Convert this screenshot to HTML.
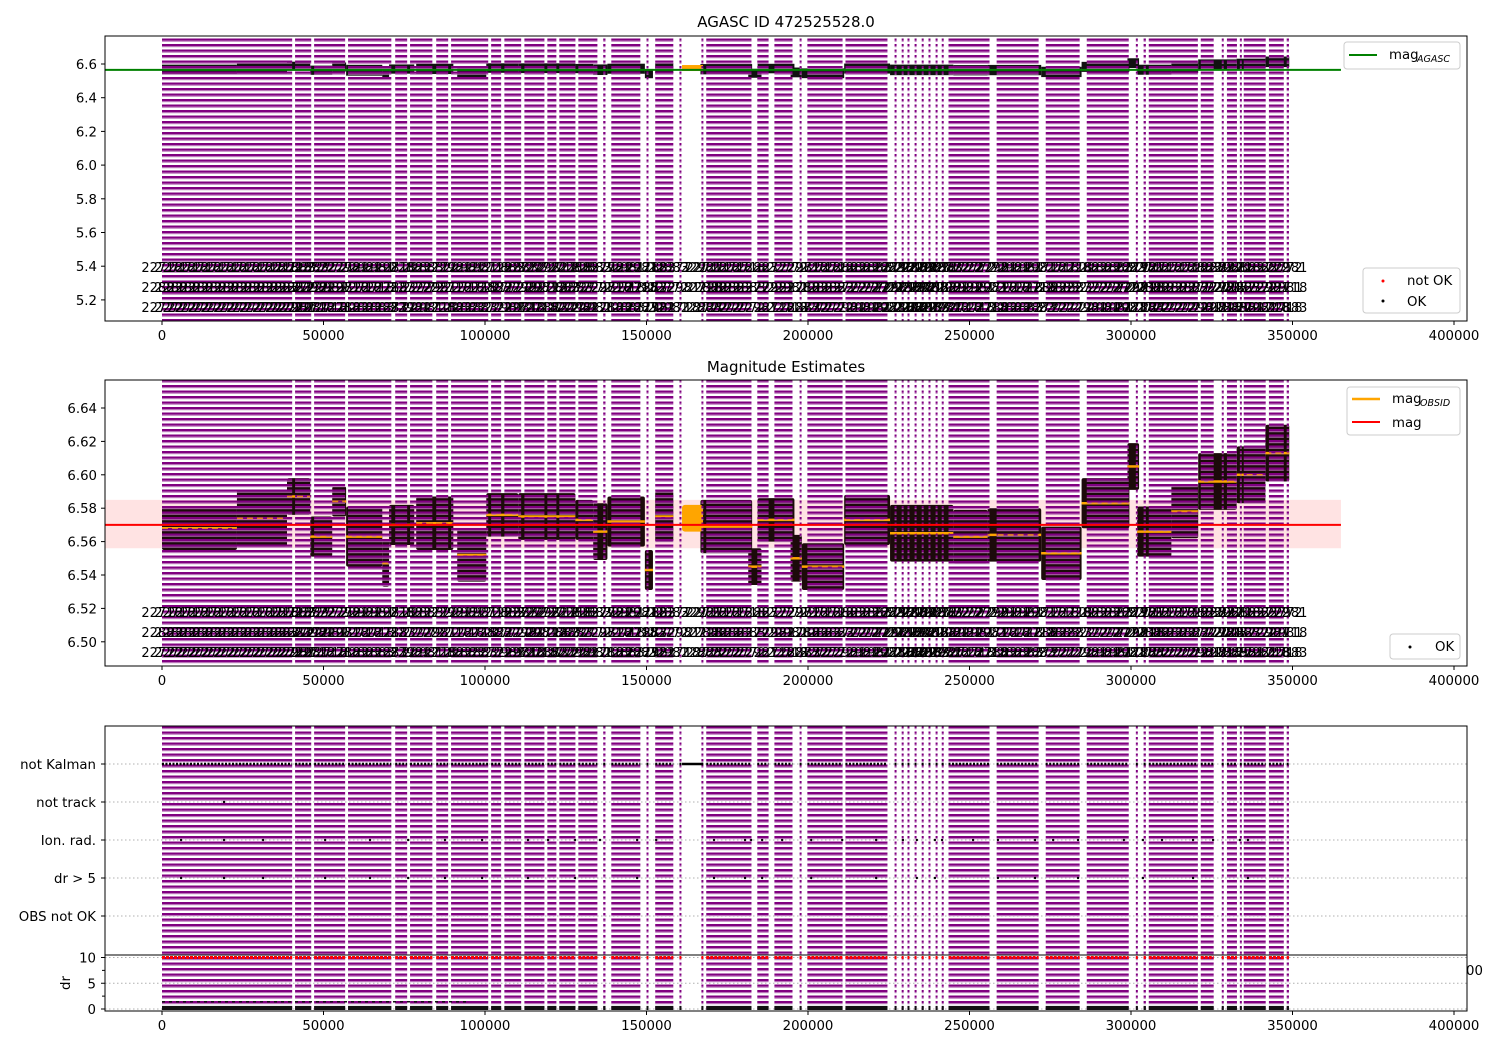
<!DOCTYPE html>
<html><head><meta charset="utf-8"><style>
body{margin:0;background:#fff;}
svg{display:block;font-family:"DejaVu Sans","Liberation Sans",sans-serif;}
</style></head><body>
<svg id="chart" width="1500" height="1050" xmlns="http://www.w3.org/2000/svg">
<defs>
<pattern id="stripes" patternUnits="userSpaceOnUse" width="10" height="5.5">
<rect x="0" y="0" width="10" height="2.2" fill="#800080"/>
<rect x="0" y="2.2" width="10" height="1.0" fill="#b56ab5"/>
</pattern>
<clipPath id="c1"><rect x="105" y="36" width="1362" height="285"/></clipPath>
<clipPath id="c2"><rect x="105" y="380" width="1362" height="286"/></clipPath>
<clipPath id="c3"><rect x="105" y="726" width="1362" height="229"/></clipPath>
<clipPath id="c4"><rect x="105" y="955" width="1362" height="56"/></clipPath>
</defs>
<g id="root"></g>
</svg>
<script>
// ---- data (time in thousands of seconds) ----
const segStart=[0,41.2,47.1,57.6,72.2,76.8,84.9,89.5,101.9,106,112.2,119.3,123,128.9,136.6,139.1,150,152.7,160.2,167,168.5,184.3,189.6,197.4,199.8,211.6,226.8,229,230.8,233,235.2,237.3,239.5,241.4,243.5,258.4,273.6,286.3,301.5,303.9,305.5,321.6,328.1,329.7,333.7,334.9,342.7,348.2];
const segEnd=[40.3,46.2,56.7,71,75.9,83.7,88.6,101,105,111.2,118.4,122.1,128,134.8,137.3,148.1,150.6,158.3,160.8,167.6,182.5,187.8,195.2,198,210.7,224.6,227.4,229.6,231.4,233.6,235.8,237.9,240.1,242,256.2,271.4,284.1,299.3,302.1,304.6,320.7,325.6,328.7,332.8,334.3,341.7,347.3,348.9];
const blkStart=[0,23.2,38.7,45.9,52.7,57,68.2,70.3,78.7,91.4,100.4,110.3,128,133.5,137.9,149.5,152.7,166.7,181.5,184.4,194.6,198.1,211.2,225.4,245,255.6,272.2,284.7,298.9,301.9,312.5,320.8,332.7,341.6];
const blkEnd=[23.2,38.7,45.9,52.7,57,68.2,70.3,78.1,90.2,100.4,110.3,128,133.5,137.9,149.5,152,158.3,182.7,185.6,195.8,198.1,211.2,225.4,245,255.6,272.2,284.7,299.5,302.5,312.5,320.8,332.7,341.6,349];
const blkMag=[6.568,6.574,6.587,6.563,6.584,6.563,6.547,6.570,6.571,6.552,6.576,6.575,6.573,6.566,6.572,6.543,6.575,6.569,6.545,6.573,6.55,6.545,6.573,6.565,6.563,6.564,6.553,6.583,6.605,6.566,6.578,6.596,6.60,6.613];
const blkHalf=[.013,.017,.011,.012,.009,.018,.014,.012,.016,.016,.013,.014,.012,.017,.015,.012,.015,.016,.011,.013,.014,.014,.015,.017,.016,.016,.016,.015,.014,.015,.016,.017,.017,.017];
const bumpStart=[161], bumpEnd=[167.5], bumpMag=[6.574], bumpHalf=[0.008];
const magMean=6.570, magLo=6.556, magHi=6.585, magAgasc=6.565, lineEnd=365;
const ionRad=[5.9,19.2,31.3,50.5,64.4,76.2,87.6,99.1,113.3,119.5,127.9,135.6,147.1,153,170.9,180.5,182.4,185.8,192,201,210.6,221.1,229.4,233.7,239.3,241.5,251.1,258.8,270.3,275.9,283.6,297.8,303.7,309.6,319.2,325.4,333.7,336.2];
const drGt5=[5.9,19.2,31.3,50.5,64.4,76.2,87.6,99.1,113.3,127.9,147.1,170.9,180.5,185.8,201,221.1,233.7,239.3,258.8,270.3,283.6,303.7,319.2,336.2];
const notTrack=[19.2];
const drCap=10, drBaseHi=0.6;
const drBumpStart=[0], drBumpEnd=[95], drBumpVal=[1.4];
const xTicks=[0,50000,100000,150000,200000,250000,300000,350000,400000];
const y1Ticks=[5.2,5.4,5.6,5.8,6.0,6.2,6.4,6.6];
const y2Ticks=[6.50,6.52,6.54,6.56,6.58,6.60,6.62,6.64];
const cats=["OBS not OK","dr > 5","Ion. rad.","not track","not Kalman"];
const drTicks=[0,5,10];
const obsLabels=["22718","22883","22772","22981"];

// ---- scales ----
const X=k=>162+k*1292/400;
const Y1=m=>64+(6.6-m)*168.5;
const Y2=m=>408+(6.64-m)*1670;
const Yc=i=>916-i*38;
const Ydr=d=>1009-d*5.15;

const NS="http://www.w3.org/2000/svg";
const root=document.getElementById('root');
function el(tag,attrs,parent){const e=document.createElementNS(NS,tag);for(const k in attrs)e.setAttribute(k,attrs[k]);(parent||root).appendChild(e);return e;}
function txt(s,attrs,parent){const e=el('text',attrs,parent);e.textContent=s;return e;}

function stripes(g,top,bot){
  for(let i=0;i<segStart.length;i++){
    const r=el('rect',{x:X(segStart[i]),y:top,width:Math.max(2,X(segEnd[i])-X(segStart[i])),height:bot-top,fill:'url(#stripes)'},g);
    
    
  }
}
function obsText(g,ys){
  ys.forEach((y,ri)=>{
    for(let i=0;i<segStart.length;i++){
      for(let k=segStart[i];k<=segEnd[i]+0.01;k+=4){
        const t=txt(obsLabels[(i+ri)%4],{x:X(k),y:y,'font-size':13,'text-anchor':'middle',fill:'#000'},g);
        
        
      }
    }
  });
}
function xAxis(yb,show){
  const g=el('g',{});
  
  
  xTicks.forEach(v=>{const x=X(v/1000);el('line',{x1:x,x2:x,y1:yb,y2:yb+4,stroke:'#000'},g);
    if(show)txt(String(v),{x:x,y:yb+19,'font-size':13.3,'text-anchor':'middle'},g);});
}
function frame(x,y,w,h,name){const r=el('rect',{x:x,y:y,width:w,height:h,fill:'none',stroke:'#000','stroke-width':1});}

// ===== Panel 1 =====
txt("AGASC ID 472525528.0",{x:786,y:27,'font-size':15,'text-anchor':'middle'});
let g1=el('g',{'clip-path':'url(#c1)'});


for(let i=0;i<blkStart.length;i++){
  const yt=Y1(blkMag[i]+blkHalf[i]*0.8)-3;
  const r=el('rect',{x:X(blkStart[i]),y:yt,width:X(blkEnd[i])-X(blkStart[i]),height:Math.max(9,Y1(blkMag[i]-blkHalf[i]*0.8)+3-yt),fill:'#111'},g1);
  
}
el('rect',{x:X(bumpStart[0]),y:Y1(bumpMag[0]+bumpHalf[0])-2,width:X(bumpEnd[0])-X(bumpStart[0]),height:6,fill:'orange'},g1);
stripes(g1,36,321);
const ag=el('line',{x1:105,x2:X(lineEnd),y1:Y1(magAgasc),y2:Y1(magAgasc),stroke:'green','stroke-width':2},g1);

obsText(g1,[272,292,312]);
frame(105,36,1362,285,'panel-agasc-frame');
y1Ticks.forEach(v=>{const y=Y1(v);el('line',{x1:101,x2:105,y1:y,y2:y,stroke:'#000'});txt(v.toFixed(1),{x:97,y:y+5,'font-size':13.3,'text-anchor':'end'});});
xAxis(321,true);
// legends
let lg=el('g',{});
el('rect',{x:1344,y:42,width:116,height:27,rx:3,fill:'#fff',stroke:'#ccc'},lg);
el('line',{x1:1349,x2:1377,y1:55,y2:55,stroke:'green','stroke-width':2},lg);
txt("mag",{x:1389,y:59,'font-size':13.3},lg);
txt("AGASC",{x:1417,y:62,'font-size':9.5,'font-style':'italic'},lg);
let lg2=el('g',{});
el('rect',{x:1363,y:268,width:97,height:45,rx:3,fill:'#fff',stroke:'#ccc'},lg2);
el('circle',{cx:1383,cy:281,r:1.5,fill:'red'},lg2);txt("not OK",{x:1407,y:285,'font-size':13.3},lg2);
el('circle',{cx:1383,cy:301,r:1.5,fill:'#000'},lg2);txt("OK",{x:1407,y:306,'font-size':13.3},lg2);

// ===== Panel 2 =====
txt("Magnitude Estimates",{x:786,y:372,'font-size':15,'text-anchor':'middle'});
let g2=el('g',{'clip-path':'url(#c2)'});


const band=el('rect',{x:105,y:Y2(magHi),width:X(lineEnd)-105,height:Y2(magLo)-Y2(magHi),fill:'rgba(255,0,0,0.11)'},g2);

for(let i=0;i<blkStart.length;i++){
  const r=el('rect',{x:X(blkStart[i]),y:Y2(blkMag[i]+blkHalf[i]),width:X(blkEnd[i])-X(blkStart[i]),height:Y2(blkMag[i]-blkHalf[i])-Y2(blkMag[i]+blkHalf[i]),fill:'#1c0a0a',rx:2},g2);
  
  const o=el('line',{x1:X(blkStart[i]),x2:X(blkEnd[i]),y1:Y2(blkMag[i]),y2:Y2(blkMag[i]),stroke:'orange','stroke-width':2.5},g2);
  
}
el('rect',{x:X(bumpStart[0]),y:Y2(bumpMag[0]+bumpHalf[0]),width:X(bumpEnd[0])-X(bumpStart[0]),height:Y2(bumpMag[0]-bumpHalf[0])-Y2(bumpMag[0]+bumpHalf[0]),fill:'orange',rx:3},g2);
stripes(g2,380,666);
for(let i=0;i<blkStart.length;i++){
  el('line',{x1:X(blkStart[i]),x2:X(blkEnd[i]),y1:Y2(blkMag[i]),y2:Y2(blkMag[i]),stroke:'orange','stroke-width':1.5,'stroke-dasharray':'6,4',opacity:0.8},g2);
}
const ml=el('line',{x1:105,x2:X(lineEnd),y1:Y2(magMean),y2:Y2(magMean),stroke:'red','stroke-width':2},g2);

obsText(g2,[617,637,657]);
frame(105,380,1362,286,'panel-mag-frame');
y2Ticks.forEach(v=>{const y=Y2(v);el('line',{x1:101,x2:105,y1:y,y2:y,stroke:'#000'});txt(v.toFixed(2),{x:97,y:y+5,'font-size':13.3,'text-anchor':'end'});});
xAxis(666,true);
let lg3=el('g',{});
el('rect',{x:1347,y:387,width:113,height:48,rx:3,fill:'#fff',stroke:'#ccc'},lg3);
el('line',{x1:1352,x2:1380,y1:399,y2:399,stroke:'orange','stroke-width':2.5},lg3);
txt("mag",{x:1392,y:403,'font-size':13.3},lg3);txt("OBSID",{x:1420,y:406,'font-size':9.5,'font-style':'italic'},lg3);
el('line',{x1:1352,x2:1380,y1:422,y2:422,stroke:'red','stroke-width':2},lg3);
txt("mag",{x:1392,y:427,'font-size':13.3},lg3);
let lg4=el('g',{});
el('rect',{x:1390,y:634,width:70,height:25,rx:3,fill:'#fff',stroke:'#ccc'},lg4);
el('circle',{cx:1410,cy:647,r:1.5,fill:'#000'},lg4);txt("OK",{x:1435,y:651,'font-size':13.3},lg4);

// ===== Panel 3 =====
let g3=el('g',{'clip-path':'url(#c3)'});


cats.forEach((c,i)=>{el('line',{x1:105,x2:1467,y1:Yc(i),y2:Yc(i),stroke:'#b0b0b0','stroke-dasharray':'1.5,2.5'},g3);});
stripes(g3,726,955);
for(let i=0;i<segStart.length;i++){
  const l=el('line',{x1:X(segStart[i]),x2:X(segEnd[i]),y1:Yc(4),y2:Yc(4),stroke:'#000','stroke-width':2.5,'stroke-dasharray':'2,1.5'},g3);
  
}
el('line',{x1:X(161),x2:X(167.5),y1:Yc(4),y2:Yc(4),stroke:'#000','stroke-width':2.5},g3);
ionRad.forEach(k=>{el('circle',{cx:X(k),cy:Yc(2),r:1.2,fill:'#000'},g3);});
drGt5.forEach(k=>{el('circle',{cx:X(k),cy:Yc(1),r:1.2,fill:'#000'},g3);});
notTrack.forEach(k=>{el('circle',{cx:X(k),cy:Yc(3),r:1.2,fill:'#000'},g3);});
frame(105,726,1362,229,'panel-flags-frame');
cats.forEach((c,i)=>{el('line',{x1:101,x2:105,y1:Yc(i),y2:Yc(i),stroke:'#000'});const t=txt(c,{x:96,y:Yc(i)+5,'font-size':13.3,'text-anchor':'end'});});
txt("00",{x:1466,y:975,'font-size':13.3});

// ===== dr panel =====
let g4=el('g',{'clip-path':'url(#c4)'});


el('rect',{x:105,y:955,width:1362,height:56,fill:'#fff'},g4);
drTicks.forEach(v=>{el('line',{x1:105,x2:1467,y1:Ydr(v),y2:Ydr(v),stroke:'#b0b0b0','stroke-dasharray':'1.5,2.5'},g4);});
stripes(g4,955,1011);
for(let i=0;i<segStart.length;i++){
  const r=el('line',{x1:X(segStart[i]),x2:X(segEnd[i]),y1:Ydr(drCap),y2:Ydr(drCap),stroke:'red','stroke-width':3,'stroke-dasharray':'3,1'},g4);
  
  const b=el('rect',{x:X(segStart[i]),y:Ydr(drBaseHi),width:Math.max(2,X(segEnd[i])-X(segStart[i])),height:Ydr(0)-Ydr(drBaseHi)+1,fill:'#111'},g4);
  
}
for(let i=0;i<drBumpStart.length;i++){
  el('line',{x1:X(drBumpStart[i]),x2:X(drBumpEnd[i]),y1:Ydr(drBumpVal[i]),y2:Ydr(drBumpVal[i]),stroke:'#111','stroke-width':1.5,'stroke-dasharray':'3,4'},g4);
}
el('line',{x1:105,x2:1467,y1:955,y2:955,stroke:'#000'});
frame(105,955,1362,56,'panel-dr-frame');
drTicks.forEach(v=>{const y=Ydr(v);el('line',{x1:101,x2:105,y1:y,y2:y,stroke:'#000'});txt(String(v),{x:96,y:y+5,'font-size':13.3,'text-anchor':'end'});});
[2.5,7.5].forEach(v=>{const y=Ydr(v);el('line',{x1:102,x2:105,y1:y,y2:y,stroke:'#000'});});
txt("dr",{x:70,y:983,'font-size':13.3,'text-anchor':'middle',transform:'rotate(-90 70 983)'});
xAxis(1011,true);
</script>
</body></html>
